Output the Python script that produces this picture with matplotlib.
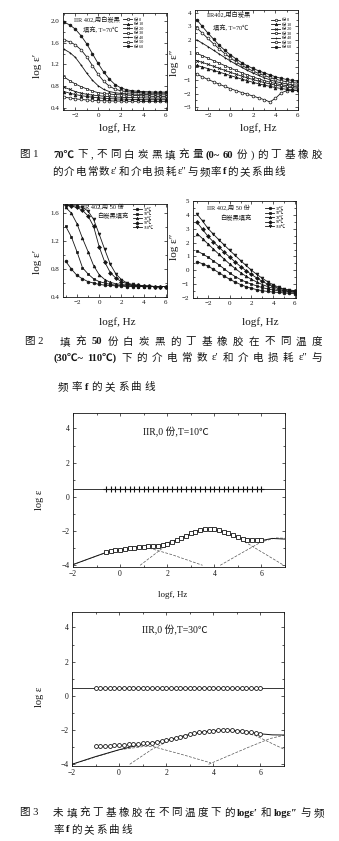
import re
import matplotlib
matplotlib.use("Agg")
import matplotlib.pyplot as plt
from matplotlib.ticker import MultipleLocator

FAM = ['Liberation Serif', 'Noto Sans CJK SC', 'DejaVu Sans']
plt.rcParams['font.family'] = FAM
plt.rcParams['axes.linewidth'] = 0.6
plt.rcParams['axes.unicode_minus'] = True

W, H = 339, 841
INK = '#151515'

# ---------------- data ----------------
logf_grid = [-3.0, -2.5, -2.0, -1.5, -1.0, -0.5, 0.0, 0.5, 1.0, 1.5,
             2.0, 2.5, 3.0, 3.5, 4.0, 4.5, 5.0, 5.5, 6.0]

filler_labels = ["份 0", "份 10", "份 20", "份 30", "份 40", "份 50", "份 60"]

# log eps' at 70 C for filler loadings 0..60 phr
eps1_fill_0 = [0.60, 0.58, 0.565, 0.555, 0.545, 0.54, 0.535, 0.53, 0.53, 0.525, 0.525, 0.52, 0.52, 0.52, 0.52, 0.52, 0.52, 0.52, 0.52]
eps1_fill_10 = [0.70, 0.67, 0.645, 0.625, 0.61, 0.595, 0.585, 0.575, 0.57, 0.565, 0.56, 0.56, 0.555, 0.555, 0.55, 0.55, 0.55, 0.55, 0.55]
eps1_fill_20 = [0.78, 0.74, 0.70, 0.67, 0.65, 0.635, 0.625, 0.615, 0.605, 0.60, 0.595, 0.59, 0.59, 0.585, 0.585, 0.58, 0.58, 0.58, 0.58]
eps1_fill_30 = [0.97, 0.90, 0.84, 0.79, 0.75, 0.71, 0.68, 0.665, 0.655, 0.645, 0.64, 0.635, 0.63, 0.625, 0.62, 0.615, 0.61, 0.61, 0.61]
eps1_fill_40 = [1.48, 1.42, 1.33, 1.19, 1.04, 0.91, 0.81, 0.74, 0.70, 0.68, 0.665, 0.66, 0.655, 0.65, 0.645, 0.645, 0.64, 0.64, 0.64]
eps1_fill_50 = [1.65, 1.62, 1.56, 1.47, 1.34, 1.18, 1.02, 0.89, 0.80, 0.745, 0.715, 0.70, 0.69, 0.68, 0.675, 0.67, 0.67, 0.67, 0.67]
eps1_fill_60 = [1.98, 1.93, 1.85, 1.73, 1.58, 1.40, 1.22, 1.06, 0.93, 0.83, 0.77, 0.735, 0.715, 0.705, 0.70, 0.695, 0.69, 0.69, 0.69]

# log eps'' at 70 C for filler loadings 0..60 phr
eps2_fill_0 = [-0.55, -0.75, -0.95, -1.12, -1.30, -1.47, -1.63, -1.78, -1.92, -2.05, -2.18, -2.32, -2.45, -2.62, -2.35, -1.95, -1.78, -1.75, -1.75]
eps2_fill_10 = [0.10, -0.02, -0.14, -0.27, -0.40, -0.53, -0.66, -0.79, -0.92, -1.04, -1.16, -1.27, -1.37, -1.46, -1.55, -1.62, -1.68, -1.73, -1.76]
eps2_fill_20 = [0.45, 0.32, 0.18, 0.03, -0.12, -0.27, -0.42, -0.56, -0.70, -0.83, -0.95, -1.07, -1.18, -1.28, -1.37, -1.45, -1.52, -1.57, -1.60]
eps2_fill_30 = [1.00, 0.82, 0.64, 0.45, 0.27, 0.08, -0.10, -0.28, -0.45, -0.61, -0.76, -0.90, -1.03, -1.15, -1.25, -1.34, -1.41, -1.47, -1.50]
eps2_fill_40 = [2.00, 1.75, 1.50, 1.22, 0.95, 0.68, 0.42, 0.18, -0.05, -0.27, -0.47, -0.65, -0.82, -0.97, -1.10, -1.20, -1.28, -1.34, -1.38]
eps2_fill_50 = [2.90, 2.50, 2.10, 1.70, 1.33, 0.98, 0.65, 0.37, 0.10, -0.12, -0.32, -0.50, -0.65, -0.80, -0.93, -1.03, -1.12, -1.18, -1.22]
eps2_fill_60 = [3.50, 3.00, 2.50, 2.05, 1.60, 1.22, 0.88, 0.58, 0.30, 0.07, -0.13, -0.30, -0.46, -0.60, -0.75, -0.86, -0.95, -1.02, -1.08]

temp_labels = ["30℃", "50℃", "70℃", "90℃", "110℃"]

# log eps' with 50 phr filler at 30..110 C
eps1_T30 = [0.91, 0.80, 0.71, 0.66, 0.62, 0.60, 0.58, 0.57, 0.565, 0.56, 0.555, 0.55, 0.55, 0.55, 0.55, 0.55, 0.55, 0.55, 0.55]
eps1_T50 = [1.41, 1.26, 1.05, 0.82, 0.73, 0.66, 0.62, 0.60, 0.58, 0.57, 0.565, 0.56, 0.555, 0.55, 0.55, 0.55, 0.55, 0.55, 0.55]
eps1_T70 = [1.68, 1.60, 1.45, 1.24, 1.05, 0.85, 0.72, 0.65, 0.61, 0.59, 0.58, 0.57, 0.565, 0.56, 0.555, 0.55, 0.55, 0.55, 0.55]
eps1_T90 = [1.71, 1.70, 1.68, 1.64, 1.56, 1.41, 1.12, 0.90, 0.75, 0.67, 0.62, 0.59, 0.57, 0.565, 0.56, 0.555, 0.55, 0.55, 0.55]
eps1_T110 = [1.71, 1.71, 1.70, 1.68, 1.63, 1.51, 1.30, 1.08, 0.87, 0.73, 0.65, 0.60, 0.58, 0.57, 0.56, 0.56, 0.55, 0.55, 0.55]

# log eps'' with 50 phr filler at 30..110 C
eps2_T30 = [0.62, 0.47, 0.30, 0.07, -0.17, -0.42, -0.65, -0.85, -1.03, -1.18, -1.30, -1.40, -1.47, -1.53, -1.57, -1.60, -1.63, -1.66, -1.68]
eps2_T50 = [1.40, 1.18, 0.95, 0.68, 0.40, 0.10, -0.20, -0.45, -0.67, -0.85, -1.00, -1.13, -1.25, -1.35, -1.42, -1.48, -1.53, -1.57, -1.60]
eps2_T70 = [2.65, 2.28, 1.90, 1.53, 1.16, 0.80, 0.45, 0.13, -0.17, -0.43, -0.65, -0.85, -1.03, -1.18, -1.30, -1.40, -1.47, -1.52, -1.55]
eps2_T90 = [3.45, 2.95, 2.45, 2.05, 1.67, 1.30, 0.95, 0.60, 0.27, -0.03, -0.30, -0.56, -0.80, -1.00, -1.17, -1.30, -1.40, -1.46, -1.50]
eps2_T110 = [4.05, 3.55, 3.02, 2.60, 2.20, 1.82, 1.44, 1.07, 0.70, 0.35, 0.00, -0.30, -0.58, -0.83, -1.05, -1.22, -1.35, -1.42, -1.47]

# unfilled IIR, 10 C
logf_10C = [-0.6, -0.4, -0.2, 0.0, 0.2, 0.4, 0.6, 0.8, 1.0, 1.2, 1.4, 1.6, 1.8, 2.0, 2.2, 2.4, 2.6,
            2.8, 3.0, 3.2, 3.4, 3.6, 3.8, 4.0, 4.2, 4.4, 4.6, 4.8, 5.0, 5.2, 5.4, 5.6, 5.8, 6.0]
eps1_10C = [0.46, 0.46, 0.46, 0.46, 0.46, 0.46, 0.46, 0.45, 0.45, 0.45, 0.45, 0.45, 0.45, 0.45, 0.45, 0.45, 0.45,
            0.45, 0.45, 0.45, 0.45, 0.45, 0.45, 0.45, 0.45, 0.45, 0.45, 0.44, 0.44, 0.44, 0.44, 0.44, 0.44, 0.44]
eps2_10C = [-3.20, -3.17, -3.13, -3.09, -3.05, -3.01, -2.97, -2.94, -2.92, -2.90, -2.88, -2.85, -2.80, -2.73, -2.64, -2.53, -2.40,
            -2.27, -2.14, -2.03, -1.95, -1.90, -1.88, -1.90, -1.96, -2.04, -2.14, -2.25, -2.36, -2.45, -2.51, -2.54, -2.55, -2.54]
eps1_fit_10C = 0.45
fit_10C_x = [-2.0, -0.6, 0.7, 1.7, 2.55, 3.33, 3.83, 4.4, 5.25, 6.03, 6.45, 7.0]
fit_10C_y = [-3.96, -3.25, -2.95, -2.83, -2.45, -1.97, -1.89, -2.05, -2.48, -2.55, -2.43, -2.47]
peak1_10C_x = [-2.0, -0.6, 1.0, 2.2, 3.5]
peak1_10C_y = [-3.96, -3.26, -2.90, -3.38, -4.0]
peak2_10C_x = [0.85, 1.8, 2.6, 3.3, 3.8, 4.4, 5.2, 6.95]
peak2_10C_y = [-4.0, -3.0, -2.38, -2.0, -1.9, -2.06, -2.55, -4.0]
peak3_10C_x = [4.25, 5.2, 6.0, 6.6, 7.0]
peak3_10C_y = [-4.0, -3.25, -2.63, -2.40, -2.42]

# unfilled IIR, 30 C
logf_30C = [-1.0, -0.8, -0.6, -0.4, -0.2, 0.0, 0.2, 0.4, 0.6, 0.8, 1.0, 1.2, 1.4, 1.6, 1.8, 2.0, 2.2, 2.4,
            2.6, 2.8, 3.0, 3.2, 3.4, 3.6, 3.8, 4.0, 4.2, 4.4, 4.6, 4.8, 5.0, 5.2, 5.4, 5.6, 5.8, 6.0]
eps1_30C = [0.45, 0.45, 0.45, 0.45, 0.45, 0.45, 0.45, 0.45, 0.45, 0.45, 0.45, 0.45, 0.45, 0.45, 0.45, 0.45, 0.45, 0.45,
            0.45, 0.45, 0.45, 0.45, 0.45, 0.45, 0.45, 0.45, 0.45, 0.44, 0.44, 0.44, 0.44, 0.44, 0.44, 0.44, 0.44, 0.44]
eps2_30C = [-2.91, -2.92, -2.92, -2.91, -2.89, -2.87, -2.86, -2.84, -2.82, -2.80, -2.78, -2.76, -2.73, -2.69, -2.65, -2.60, -2.54, -2.47,
            -2.40, -2.32, -2.25, -2.19, -2.14, -2.10, -2.06, -2.03, -2.01, -2.00, -2.00, -2.01, -2.03, -2.06, -2.10, -2.14, -2.18, -2.21]
eps1_fit_30C = 0.44
fit_30C_x = [-2.0, -1.0, 0.0, 0.6, 1.2, 2.0, 2.8, 3.6, 4.5, 5.2, 6.0, 6.5, 7.0]
fit_30C_y = [-4.0, -3.55, -3.15, -2.95, -2.80, -2.60, -2.32, -2.10, -2.00, -2.06, -2.22, -2.28, -2.29]
peak1_30C_x = [-2.0, 0.0, 1.0, 1.4, 2.6, 3.9]
peak1_30C_y = [-4.0, -3.15, -2.97, -2.95, -3.40, -3.92]
peak2_30C_x = [0.45, 1.4, 2.2, 3.2, 4.0, 4.6, 5.2, 5.8, 7.0]
peak2_30C_y = [-4.0, -3.12, -2.57, -2.18, -2.02, -2.0, -2.10, -2.33, -3.12]
peak3_30C_x = [3.8, 5.5, 6.4, 7.0]
peak3_30C_y = [-4.0, -3.0, -2.5, -2.3]

# ---------------- drawing ----------------
fig = plt.figure(figsize=(W / 100, H / 100), dpi=100)
fig.patch.set_facecolor('white')


def axes_px(l, t, r, b):
    return fig.add_axes([l / W, 1 - b / H, (r - l) / W, (b - t) / H])


def style(ax, xmaj, xmin, ymaj, ymin, size=5):
    ax.xaxis.set_major_locator(MultipleLocator(xmaj))
    ax.xaxis.set_minor_locator(MultipleLocator(xmin))
    ax.yaxis.set_major_locator(MultipleLocator(ymaj))
    ax.yaxis.set_minor_locator(MultipleLocator(ymin))
    ax.tick_params(which='both', direction='in', top=True, right=True,
                   labelsize=size, pad=2.5, width=0.5, colors=INK)
    ax.tick_params(which='major', length=2.5)
    ax.tick_params(which='minor', length=1.2)
    for s in ax.spines.values():
        s.set_color(INK)


def ftext(x, y, s, size, **kw):
    kw.setdefault('ha', 'left')
    kw.setdefault('va', 'center')
    return fig.text(x / W, 1 - y / H, s, fontsize=size, color=INK, family=FAM, **kw)


def small_legend(ax, anchor):
    ax.legend(loc='upper left', bbox_to_anchor=anchor, fontsize=3, frameon=False,
              handlelength=2.2, handletextpad=0.4, labelspacing=0.12,
              borderpad=0, borderaxespad=0, markerscale=0.9)


line_kw = dict(color=INK, lw=0.6, ms=2.0, mew=0.5)

# Fig.1 left: log eps'
ax1 = axes_px(63, 13, 167, 110)
fill_eps1 = [eps1_fill_0, eps1_fill_10, eps1_fill_20, eps1_fill_30, eps1_fill_40, eps1_fill_50, eps1_fill_60]
fill_marks = [('o', 'white'), ('^', INK), ('x', INK), ('s', 'white'), ('+', INK), ('o', 'white'), ('o', INK)]
for ys, lab, (m, fc) in zip(fill_eps1, filler_labels, fill_marks):
    ax1.plot(logf_grid, ys, marker=m, mfc=fc, label=lab, **line_kw)
ax1.set_xlim(-3.1, 6.1)
ax1.set_ylim(0.36, 2.15)
style(ax1, 2, 1, 0.4, 0.2)
small_legend(ax1, (0.58, 0.95))

# Fig.1 right: log eps''
ax2 = axes_px(195, 10, 298, 110)
fill_eps2 = [eps2_fill_0, eps2_fill_10, eps2_fill_20, eps2_fill_30, eps2_fill_40, eps2_fill_50, eps2_fill_60]
for ys, lab, (m, fc) in zip(fill_eps2, filler_labels, fill_marks):
    ax2.plot(logf_grid, ys, marker=m, mfc=fc, label=lab, **line_kw)
ax2.set_xlim(-3.15, 6.0)
ax2.set_ylim(-3.22, 4.22)
style(ax2, 2, 1, 1, 0.5)
small_legend(ax2, (0.74, 0.92))

# Fig.2 left: log eps' vs temperature
temp_marks = ['o', 's', '^', 'D', 'v']
ax3 = axes_px(63, 204, 167, 297)
for ys, lab, m in zip([eps1_T30, eps1_T50, eps1_T70, eps1_T90, eps1_T110], temp_labels, temp_marks):
    ax3.plot(logf_grid, ys, marker=m, mfc=INK, label=lab, **line_kw)
ax3.set_xlim(-3.25, 6.1)
ax3.set_ylim(0.4, 1.73)
style(ax3, 2, 1, 0.4, 0.2)
small_legend(ax3, (0.67, 0.96))

# Fig.2 right: log eps'' vs temperature
ax4 = axes_px(193, 201, 296, 298)
for ys, lab, m in zip([eps2_T30, eps2_T50, eps2_T70, eps2_T90, eps2_T110], temp_labels, temp_marks):
    ax4.plot(logf_grid, ys, marker=m, mfc=INK, label=lab, **line_kw)
ax4.set_xlim(-3.38, 6.1)
ax4.set_ylim(-2, 5)
style(ax4, 2, 1, 1, 0.5)
small_legend(ax4, (0.70, 0.94))

comp_kw = dict(color='#555555', lw=0.5, ls=(0, (4, 2)))

# Fig.3 top: 10 C
ax5 = axes_px(73, 413, 285, 567)
ax5.axhline(eps1_fit_10C, color=INK, lw=0.6)
ax5.plot(logf_10C, eps1_10C, ls='none', marker='+', ms=4, mew=0.8, color=INK)
for px, py in [(peak1_10C_x, peak1_10C_y), (peak2_10C_x, peak2_10C_y), (peak3_10C_x, peak3_10C_y)]:
    ax5.plot(px, py, **comp_kw)
ax5.plot(fit_10C_x, fit_10C_y, color=INK, lw=0.7)
ax5.plot(logf_10C, eps2_10C, ls='none', marker='s', ms=2.6, mew=0.6, mfc='white', mec=INK)
ax5.set_xlim(-2, 7)
ax5.set_ylim(-4.1, 4.9)
style(ax5, 2, 1, 2, 1, size=5.5)

# Fig.3 bottom: 30 C
ax6 = axes_px(72, 612, 284, 766)
ax6.axhline(eps1_fit_30C, color=INK, lw=0.6)
ax6.plot(logf_30C, eps1_30C, ls='none', marker='o', ms=2.8, mew=0.6, mfc='white', mec=INK)
for px, py in [(peak1_30C_x, peak1_30C_y), (peak2_30C_x, peak2_30C_y), (peak3_30C_x, peak3_30C_y)]:
    ax6.plot(px, py, **comp_kw)
ax6.plot(fit_30C_x, fit_30C_y, color=INK, lw=0.7)
ax6.plot(logf_30C, eps2_30C, ls='none', marker='o', ms=2.8, mew=0.6, mfc='white', mec=INK)
ax6.set_xlim(-2, 7)
ax6.set_ylim(-4.1, 4.9)
style(ax6, 2, 1, 2, 1, size=5.5)

# ---------------- axis titles and notes ----------------
ftext(38, 66, "log ε′", 8, rotation=90, ha='center')
ftext(175, 63, "log ε″", 8, rotation=90, ha='center')
ftext(38, 262, "log ε′", 8, rotation=90, ha='center')
ftext(175, 247, "log ε″", 8, rotation=90, ha='center')
ftext(40, 500, "log ε", 7.5, rotation=90, ha='center')
ftext(40, 697, "log ε", 7.5, rotation=90, ha='center')

ftext(117, 128, "logf, Hz", 8, ha='center')
ftext(258, 128, "logf, Hz", 8, ha='center')
ftext(117, 322, "logf, Hz", 8, ha='center')
ftext(260, 322, "logf, Hz", 8, ha='center')
ftext(173, 595, "logf, Hz", 6.5, ha='center')

ftext(74, 20, "IIR 402,用白炭黑", 4.5)
ftext(83, 30, "填充, T=70℃", 4.5)
ftext(207, 15, "IIR402,用白炭黑", 4.5)
ftext(213, 28, "填充, T=70℃", 4.5)
ftext(81, 207, "IIR 402,用 50 份", 4.5)
ftext(97, 216, "白炭黑填充", 4.5)
ftext(207, 208, "IIR 402,用 50 份", 4.5)
ftext(220, 218, "白炭黑填充", 4.5)
ftext(143, 432, "IIR,0 份,T=10℃", 7)
ftext(142, 630, "IIR,0 份,T=30℃", 7)

# ---------------- captions ----------------
renderer = fig.canvas.get_renderer()


def caption_line(s, x0, x1, y, size=7.6):
    """Lay out a caption line token by token; x1=None keeps a fixed small gap."""
    tokens = re.findall(r"[\x21-\x7e℃′″ε]+|\S", s)
    objs = []
    for t in tokens:
        bold = any(c.isascii() and c.isalnum() for c in t)
        objs.append(ftext(0, y, t, size, fontweight='bold' if bold else 'normal'))
    widths = [o.get_window_extent(renderer).width for o in objs]
    if x1 is None:
        gap = 2.0
    else:
        gap = (x1 - x0 - sum(widths)) / max(len(objs) - 1, 1)
    x = x0
    for o, w in zip(objs, widths):
        o.set_x(x / W)
        x += w + gap


ftext(20, 155, "图 1", 7.6)
caption_line("70℃下, 不同白炭黑填充量(0~ 60 份) 的丁基橡胶", 53, 322, 155)
caption_line("的介电常数 ε′和介电损耗 ε″与频率 f 的关系曲线", 52, 285, 172)

ftext(25, 342, "图 2", 7.6)
caption_line("填充 50 份白炭黑的丁基橡胶在不同温度", 60, 322, 342)
caption_line("(30℃~ 110℃)下的介电常数 ε′和介电损耗 ε″与", 53, 322, 358)
caption_line("频率 f 的关系曲线", 58, 155, 387)

ftext(20, 813, "图 3", 7.6)
caption_line("未填充丁基橡胶在不同温度下的 logε′和 logε″与频", 53, 324, 813)
caption_line("率 f 的关系曲线", 53, None, 830)

fig.savefig("out.png", dpi=100, facecolor='white')
